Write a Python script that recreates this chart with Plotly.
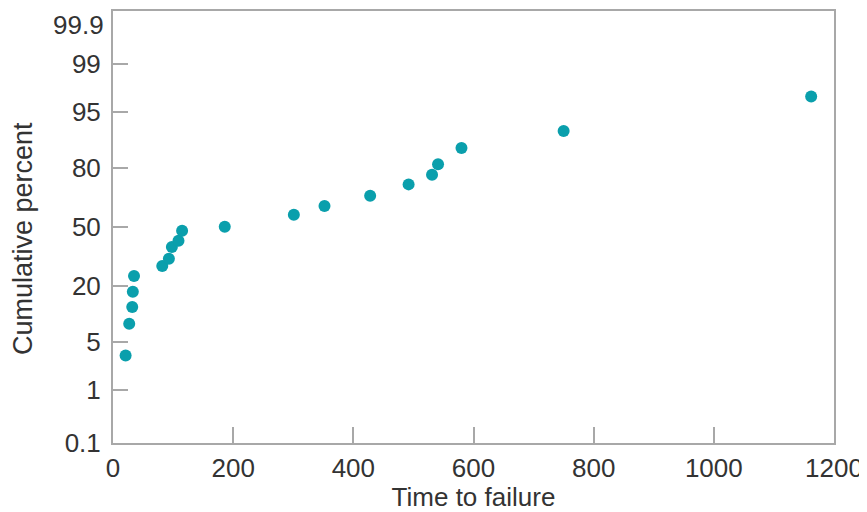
from statistics import NormalDist
import plotly.graph_objects as go

# Data (time to failure vs cumulative percent)
time_to_failure = [21, 27, 32, 33, 35, 82, 93, 98, 109, 115, 186,
                   301, 352, 428, 492, 531, 541, 580, 750, 1162]
cumulative_percent = [3.3, 8.3, 12.6, 17.7, 24.2, 28.8, 32.5, 38.7, 42.2, 47.9, 50.2,
                      57.0, 61.8, 67.3, 72.9, 77.3, 81.5, 87.1, 91.5, 96.9]

y_tick_percent = [0.1, 1, 5, 20, 50, 80, 95, 99]
y_tick_text = ["0.1", "1", "5", "20", "50", "80", "95", "99"]
top_label = 99.9
x_ticks = [0, 200, 400, 600, 800, 1000, 1200]

nd = NormalDist()
def z(p):
    return nd.inv_cdf(p / 100.0)

FONT = "Liberation Sans"
TEXT = "#333333"
FRAME = "#a8a8a8"
FS = 26

fig = go.Figure()
fig.add_trace(go.Scatter(
    x=time_to_failure,
    y=[z(p) for p in cumulative_percent],
    mode="markers",
    marker=dict(size=12, color="#0a9fac"),
    hoverinfo="skip",
    showlegend=False,
))

fig.add_annotation(
    x=0, xref="paper", xanchor="right", xshift=-7,
    y=z(top_label), yref="y", yanchor="top", yshift=3,
    text="99.9", showarrow=False,
    font=dict(family=FONT, size=FS, color=TEXT),
)

# y-axis title (placed as an annotation to match the reference's position)
fig.add_annotation(
    x=0, xref="paper", xanchor="center", xshift=-90,
    y=0.472, yref="paper", yanchor="middle",
    text="Cumulative percent", textangle=-90, showarrow=False,
    font=dict(family=FONT, size=27, color=TEXT),
)

# The page body adds an 8px offset, so the figure is sized to fit the window.
fig.update_layout(
    width=859, height=504,
    margin=dict(l=105, r=33, t=3, b=69),
    paper_bgcolor="white", plot_bgcolor="white",
    font=dict(family=FONT, size=FS, color=TEXT),
    xaxis=dict(
        range=[0, 1200], tickvals=x_ticks, ticktext=[str(v) for v in x_ticks],
        automargin=False,
        showgrid=False, zeroline=False,
        showline=True, linecolor=FRAME, linewidth=2, mirror=True,
        ticks="inside", ticklen=16, tickcolor=FRAME, tickwidth=2,
        ticklabelstandoff=1,
        tickfont=dict(family=FONT, size=FS, color=TEXT),
        title=dict(text="Time to failure", standoff=6,
                   font=dict(family=FONT, size=FS, color=TEXT)),
    ),
    yaxis=dict(
        range=[z(0.1), z(99.9)],
        tickvals=[z(p) for p in y_tick_percent], ticktext=y_tick_text,
        automargin=False,
        showgrid=False, zeroline=False,
        showline=True, linecolor=FRAME, linewidth=2, mirror=True,
        ticks="inside", ticklen=15, tickcolor=FRAME, tickwidth=2,
        ticklabelstandoff=5,
        tickfont=dict(family=FONT, size=FS, color=TEXT),
    ),
)

fig.write_html("out.html")
